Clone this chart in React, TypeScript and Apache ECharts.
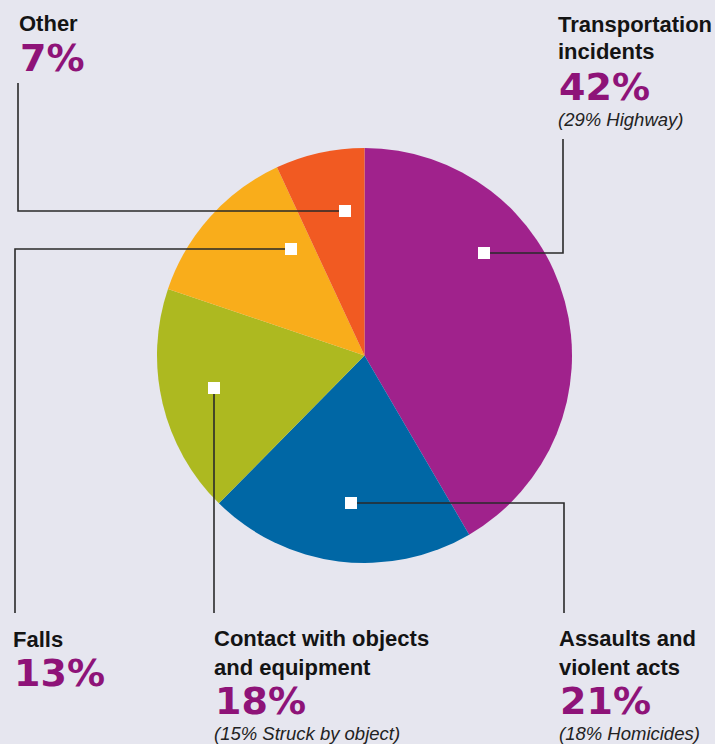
import React, { useEffect, useRef } from "react";
import * as echarts from "echarts";

const categories = [
  "Transportation incidents",
  "Assaults and violent acts",
  "Contact with objects and equipment",
  "Falls",
  "Other",
];
const shares = [42, 21, 18, 13, 7];
const subNotes = ["(29% Highway)", "(18% Homicides)", "(15% Struck by object)", "", ""];
const sliceColors = ["#a0228c", "#0067a5", "#adb920", "#f9ad1b", "#f15a22"];

const BG = "#e6e6ef";
const PCT = "#8e1378";
const INK = "#141414";
const LINE = "#2a2a2a";
const TITLE_SIZE = 22;
const PCT_SIZE = 38;
const SUB_SIZE = 18.5;
const TITLE_FONT = `bold ${TITLE_SIZE}px 'Liberation Sans', Arial, sans-serif`;
const PCT_FONT = `bold ${PCT_SIZE}px 'DejaVu Sans', sans-serif`;
const SUB_FONT = `italic ${SUB_SIZE}px 'Liberation Sans', Arial, sans-serif`;

// annotation layout: title lines, baselines, marker and leader path
const layout = [
  { x: 558, titleLines: ["Transportation", "incidents"], titleBase: [32, 59], pctBase: 100, subBase: 126,
    marker: [484, 253], path: [[484, 253], [563, 253], [563, 139]] },
  { x: 559, titleLines: ["Assaults and", "violent acts"], titleBase: [646, 675], pctBase: 714, subBase: 740,
    marker: [351, 503], path: [[351, 503], [564, 503], [564, 613]] },
  { x: 214, titleLines: ["Contact with objects", "and equipment"], titleBase: [646, 675], pctBase: 714, subBase: 740,
    marker: [214, 388], path: [[214, 388], [214, 613]] },
  { x: 13, titleLines: ["Falls"], titleBase: [647], pctBase: 686, subBase: 0,
    marker: [291, 249], path: [[291, 249], [15, 249], [15, 613]] },
  { x: 19, titleLines: ["Other"], titleBase: [31], pctBase: 71, subBase: 0,
    marker: [345, 211], path: [[345, 211], [18, 211], [18, 83]] },
];

function txt(text: string, x: number, base: number, font: string, size: number, fill: string) {
  const y = base - 0.35 * size;
  return {
    type: "text",
    x: 0,
    y: 0,
    silent: true,
    style: {
      text,
      x,
      y,
      font,
      fill,
      align: "left",
      verticalAlign: "middle",
      textAlign: "left",
      textVerticalAlign: "middle",
    },
  };
}

export default function App() {
  const ref = useRef<HTMLDivElement>(null);
  useEffect(() => {
    if (!ref.current) return;
    const chart = echarts.init(ref.current, undefined, { renderer: "svg" });
    const elements: any[] = [];
    layout.forEach((l) => {
      elements.push({
        type: "polyline",
        silent: true,
        shape: { points: l.path },
        style: { stroke: LINE, lineWidth: 1.6, fill: null },
        z: 10,
      });
    });
    layout.forEach((l) => {
      elements.push({
        type: "rect",
        silent: true,
        shape: { x: l.marker[0] - 6, y: l.marker[1] - 6, width: 12, height: 12 },
        style: { fill: "#ffffff" },
        z: 11,
      });
    });
    layout.forEach((l, i) => {
      l.titleLines.forEach((t, j) => elements.push(txt(t, l.x, l.titleBase[j], TITLE_FONT, TITLE_SIZE, INK)));
      elements.push(txt(shares[i] + "%", l.x + 1, l.pctBase, PCT_FONT, PCT_SIZE, PCT));
      if (subNotes[i]) elements.push(txt(subNotes[i], l.x, l.subBase, SUB_FONT, SUB_SIZE, "#222222"));
    });

    chart.setOption({
      animation: false,
      backgroundColor: BG,
      series: [
        {
          type: "pie",
          center: [364.5, 355.5],
          radius: 207.5,
          startAngle: 90,
          clockwise: true,
          silent: true,
          label: { show: false },
          labelLine: { show: false },
          itemStyle: { borderWidth: 0 },
          data: categories.map((name, i) => ({
            name,
            value: shares[i],
            itemStyle: { color: sliceColors[i] },
          })),
        },
      ],
      graphic: { elements },
    });
    return () => chart.dispose();
  }, []);
  return (
    <div
      ref={ref}
      style={{ position: "absolute", left: 0, top: 0, width: 715, height: 744 }}
    />
  );
}
